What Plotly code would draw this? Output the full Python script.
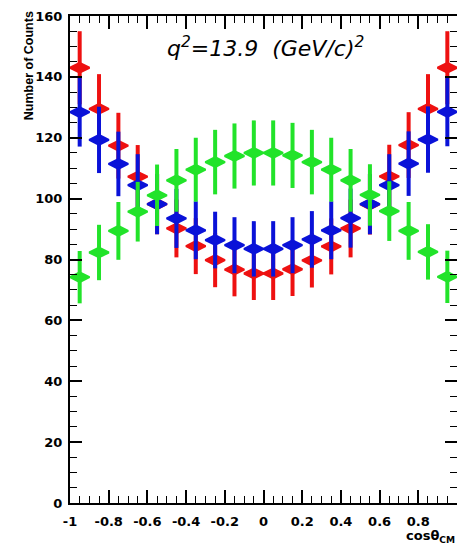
import plotly.graph_objects as go

cos_theta = [-0.95, -0.85, -0.75, -0.65, -0.55, -0.45, -0.35, -0.25, -0.15, -0.05,
             0.05, 0.15, 0.25, 0.35, 0.45, 0.55, 0.65, 0.75, 0.85, 0.95]

red_counts = [143.0, 129.5, 117.4, 107.2, 98.2, 90.2, 84.4, 79.8, 76.7, 75.4,
              75.4, 76.8, 79.7, 84.3, 90.2, 98.1, 107.3, 117.6, 129.5, 143.0]
red_err = [12.0, 11.4, 10.8, 10.4, 9.9, 9.5, 9.2, 8.9, 8.8, 8.7,
           8.7, 8.8, 8.9, 9.2, 9.5, 9.9, 10.4, 10.8, 11.4, 12.0]

blue_counts = [128.4, 119.3, 111.4, 104.4, 98.2, 93.5, 89.6, 86.4, 84.7, 83.5,
               83.5, 84.7, 86.6, 89.6, 93.6, 98.2, 104.4, 111.5, 119.4, 128.5]
blue_err = [11.3, 10.9, 10.6, 10.2, 9.9, 9.7, 9.5, 9.3, 9.2, 9.1,
            9.1, 9.2, 9.3, 9.5, 9.7, 9.9, 10.2, 10.6, 10.9, 11.3]

green_counts = [74.2, 82.3, 89.4, 95.7, 101.1, 106.0, 109.5, 112.0, 114.0, 115.0,
                115.0, 114.2, 112.0, 109.5, 106.0, 101.2, 95.9, 89.4, 82.5, 74.3]
green_err = [8.6, 9.1, 9.5, 9.8, 10.1, 10.3, 10.5, 10.6, 10.7, 10.7,
             10.7, 10.7, 10.6, 10.5, 10.3, 10.1, 9.8, 9.5, 9.1, 8.6]

x_ticks = [-1, -0.8, -0.6, -0.4, -0.2, 0, 0.2, 0.4, 0.6, 0.8, 1]
x_tick_labels = ["-1", "-0.8", "-0.6", "-0.4", "-0.2", "0", "0.2", "0.4", "0.6", "0.8", "1"]
y_ticks = [0, 20, 40, 60, 80, 100, 120, 140, 160]

series = [
    ("red", red_counts, red_err, "#ee1111"),
    ("blue", blue_counts, blue_err, "#0a12d8"),
    ("green", green_counts, green_err, "#22e32a"),
]

fig = go.Figure()
for name, ys, errs, col in series:
    fig.add_trace(go.Scatter(
        x=cos_theta, y=ys, mode="markers", name=name,
        marker=dict(symbol="diamond-wide", size=14, color=col, line=dict(width=2, color=col)),
        error_y=dict(type="data", array=errs, visible=True, color=col,
                     thickness=4, width=0),
        showlegend=False,
    ))

bold_tick_font = dict(family="DejaVu Sans, sans-serif", size=13, color="black", weight="bold")

fig.update_layout(
    width=457, height=547,
    margin=dict(l=70, r=0, t=16, b=44),
    paper_bgcolor="white", plot_bgcolor="white",
    xaxis=dict(
        range=[-1, 1], tickvals=x_ticks, ticktext=x_tick_labels,
        ticks="inside", ticklen=13, tickwidth=1.5, tickcolor="black",
        showline=True, linecolor="black", linewidth=2, mirror="allticks",
        showgrid=False, zeroline=False, automargin=False,
        tickfont=bold_tick_font,
        ticklabelstandoff=5,
        minor=dict(dtick=0.05, tick0=0, ticks="inside", ticklen=7, tickwidth=1.2, tickcolor="black", showgrid=False),
    ),
    yaxis=dict(
        range=[0, 160], tickvals=y_ticks,
        ticks="inside", ticklen=12, tickwidth=1.5, tickcolor="black",
        showline=True, linecolor="black", linewidth=2, mirror="allticks",
        showgrid=False, zeroline=False, automargin=False,
        tickfont=bold_tick_font,
        ticklabelstandoff=3,
        minor=dict(dtick=5, tick0=0, ticks="inside", ticklen=7, tickwidth=1.2, tickcolor="black", showgrid=False),
    ),
    annotations=[
        dict(text="<i>q<sup>2</sup>=13.9  (GeV/c)<sup>2</sup></i>",
             xref="paper", yref="paper", x=0.506, y=0.936,
             xanchor="center", yanchor="middle", showarrow=False,
             font=dict(family="DejaVu Sans, sans-serif", size=22, color="black")),
        dict(text="<b>Number of Counts</b>",
             xref="paper", yref="paper", x=-0.106, y=0.899,
             xanchor="center", yanchor="middle", showarrow=False, textangle=-90,
             font=dict(family="Liberation Sans, Arial, sans-serif", size=12.5, color="black")),
        dict(text="<b>cosθ<sub>CM</sub></b>",
             xref="paper", yref="paper", x=1.0, y=-0.047,
             xanchor="right", yanchor="top", showarrow=False,
             font=dict(family="DejaVu Sans, sans-serif", size=13, color="black")),
    ],
)

fig.write_html("out.html")
